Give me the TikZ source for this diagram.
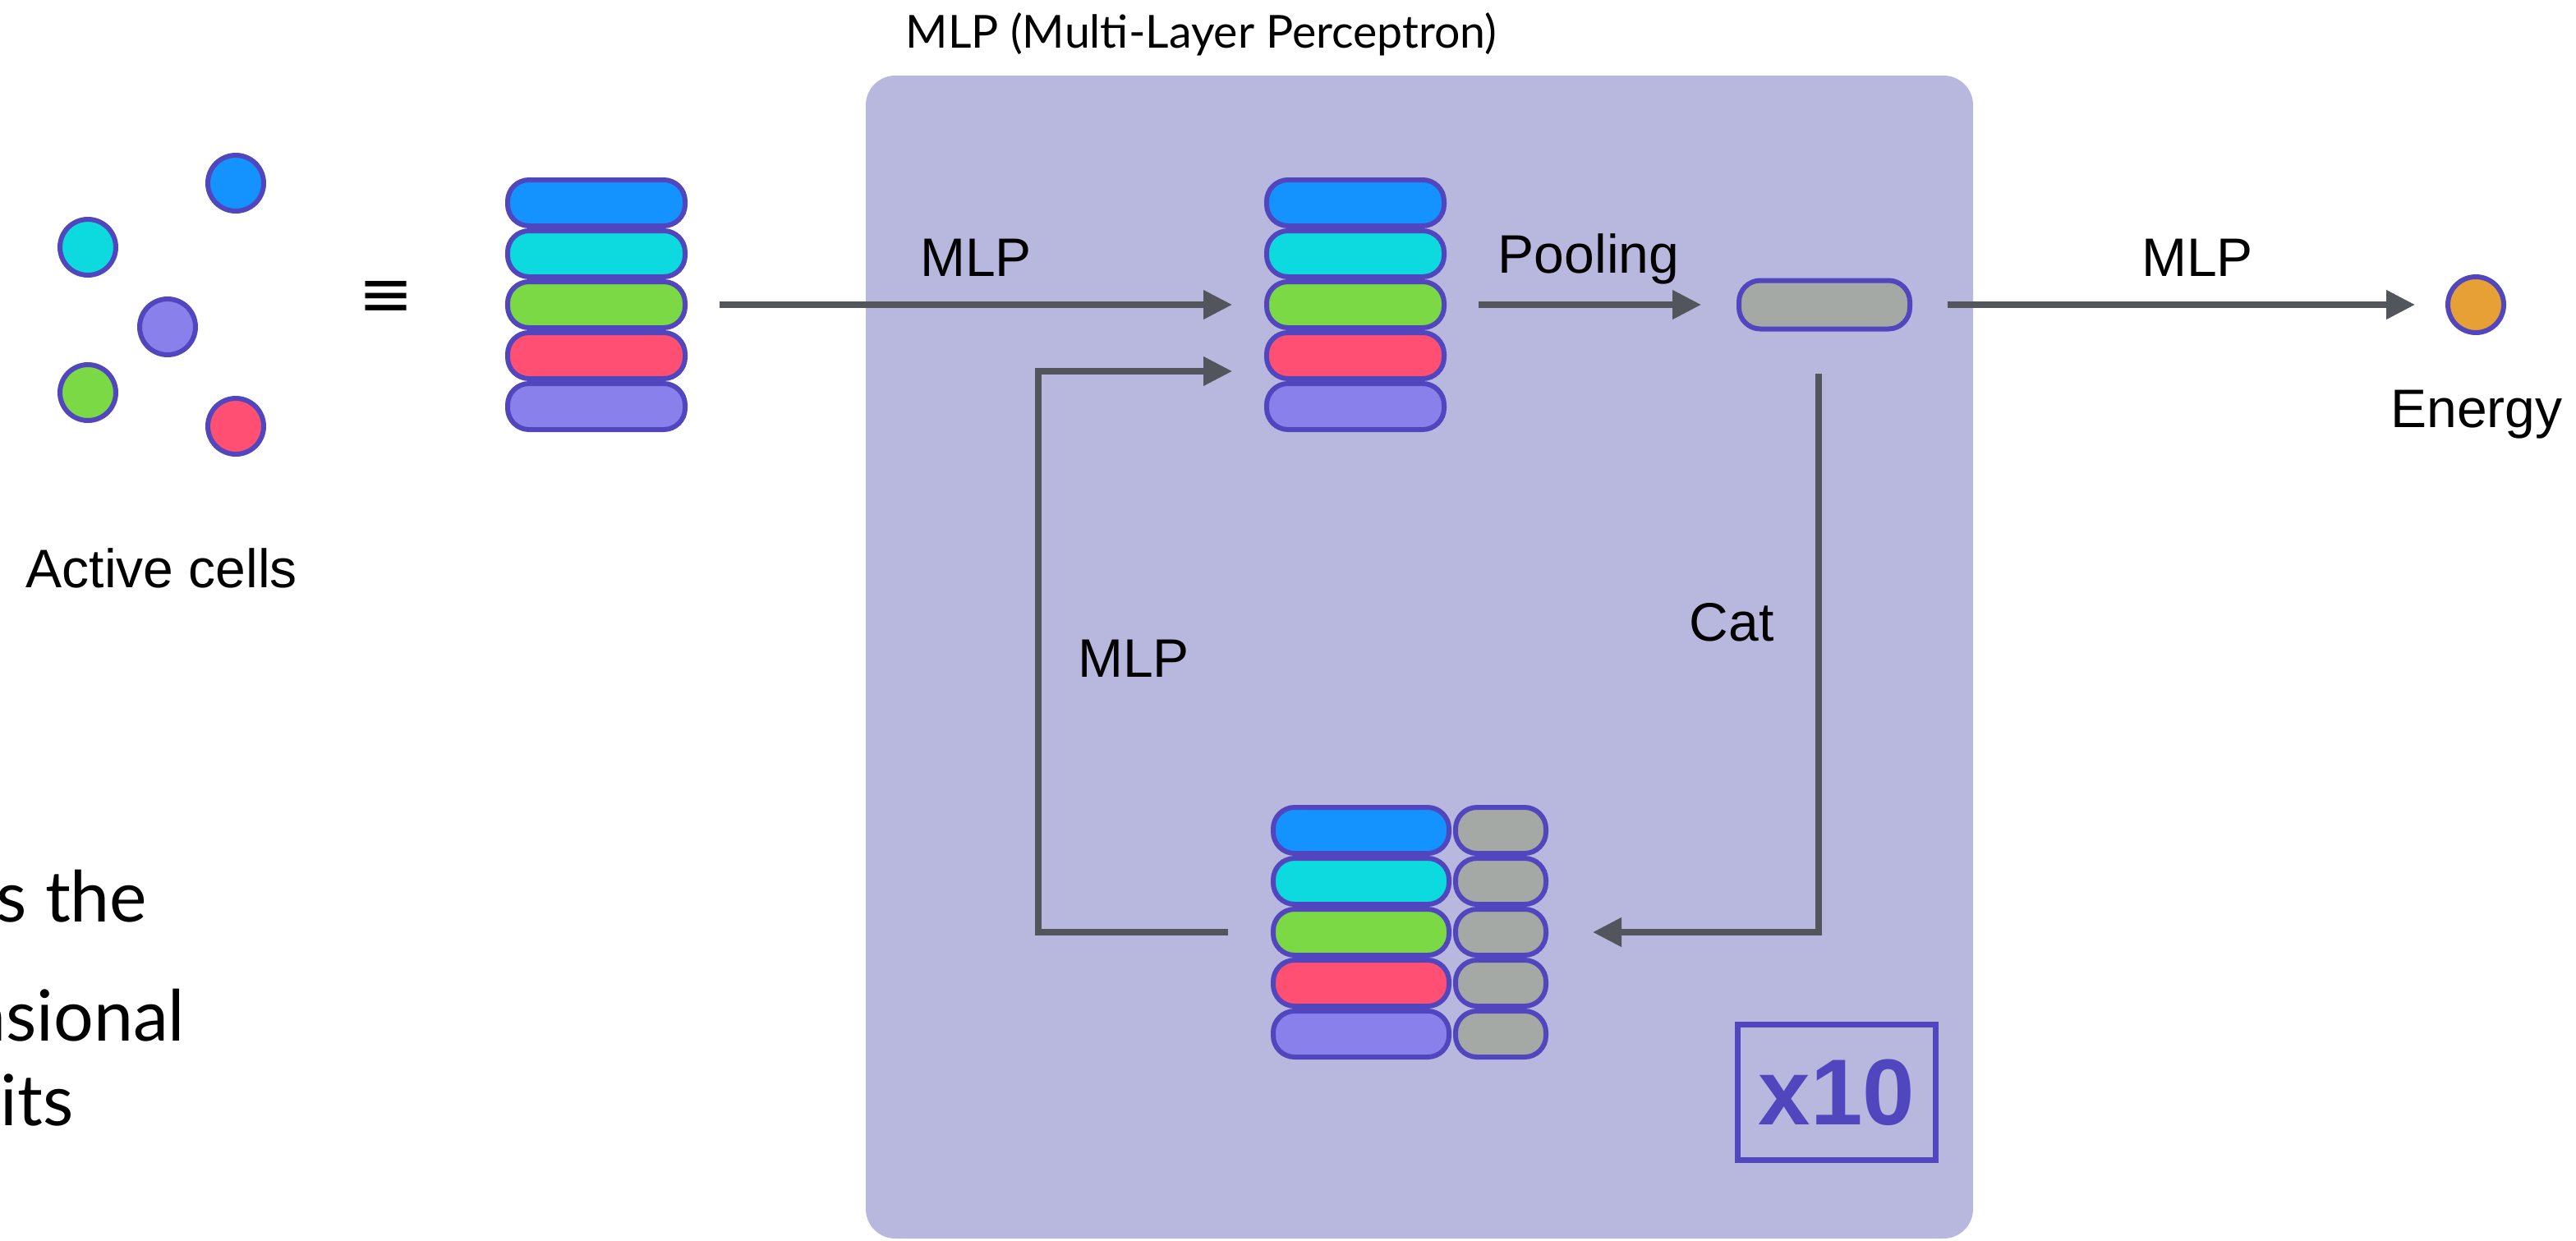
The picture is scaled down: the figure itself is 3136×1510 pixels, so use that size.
\documentclass[tikz,border=0pt]{standalone}
\usepackage{fontspec}
\setmainfont{Liberation Sans}
\newfontfamily\lightfont{Lato}
\newfontfamily\symfont{DejaVu Sans}
\usetikzlibrary{arrows.meta}

\definecolor{boxfill}{RGB}{184,184,222}
\definecolor{edgepurple}{RGB}{81,70,190}
\definecolor{cellblue}{RGB}{20,147,255}
\definecolor{cellcyan}{RGB}{13,218,223}
\definecolor{cellgreen}{RGB}{122,217,68}
\definecolor{cellred}{RGB}{255,80,115}
\definecolor{cellpurple}{RGB}{138,128,236}
\definecolor{cellgray}{RGB}{165,169,165}
\definecolor{energyorange}{RGB}{230,160,53}
\definecolor{arrowgray}{RGB}{82,86,92}

\tikzset{every picture/.style={line width=0.75pt}}
\tikzset{
  cellnode/.style={circle, draw=edgepurple, line width=3pt, minimum size=34pt, inner sep=0pt},
  featrow/.style={rectangle, rounded corners=13pt, draw=edgepurple, line width=3pt, minimum width=108pt, minimum height=28pt, inner sep=0pt},
  widerow/.style={featrow, minimum width=107pt},
  grayrow/.style={featrow, fill=cellgray, minimum width=55pt},
  pooledrow/.style={featrow, fill=cellgray, minimum width=104pt, minimum height=29.5pt},
  flowarrow/.style={draw=arrowgray, line width=3.7pt, -{Triangle[length=17.5pt,width=17pt]}},
  lbltext/.style={font=\fontsize{33}{40}\selectfont, anchor=base, inner sep=0pt},
  sidetext/.style={font=\lightfont\fontsize{43}{50}\selectfont, anchor=base east, inner sep=0pt},
}

\begin{document}
\begin{tikzpicture}[x=0.5pt,y=0.5pt,yscale=-1,xscale=1]
\useasboundingbox (0,0) rectangle (3136,1510);

%Shape: Rounded Rectangle
\fill [boxfill, rounded corners=18pt] (1054,92) rectangle (2402,1508);
% Text Node
\node [font=\lightfont\fontsize{27.7}{34}\selectfont, anchor=base west, inner sep=0pt] (title) at (1102,58) {MLP (Multi-Layer Perceptron)};

%Shape: Circle
\node [cellnode, fill=cellblue] (c1) at (287,223) {};
\node [cellnode, fill=cellcyan] (c2) at (107,301) {};
\node [cellnode, fill=cellpurple] (c3) at (204,398) {};
\node [cellnode, fill=cellgreen] (c4) at (107,478) {};
\node [cellnode, fill=cellred] (c5) at (287,519) {};
% Text Node
\node [lbltext] (active) at (197,715) {Active cells};
% Text Node
\node [font=\symfont\fontsize{40}{46}\selectfont, inner sep=0pt] (equiv) at (470,364) {≡};

%Shape: Rectangle
\node [featrow, fill=cellblue] (l1) at (726,247) {};
\node [featrow, fill=cellcyan] (l2) at (726,309) {};
\node [featrow, fill=cellgreen] (l3) at (726,371) {};
\node [featrow, fill=cellred] (l4) at (726,433) {};
\node [featrow, fill=cellpurple] (l5) at (726,495) {};

%Shape: Rectangle
\node [featrow, fill=cellblue] (m1) at (1650,247) {};
\node [featrow, fill=cellcyan] (m2) at (1650,309) {};
\node [featrow, fill=cellgreen] (m3) at (1650,371) {};
\node [featrow, fill=cellred] (m4) at (1650,433) {};
\node [featrow, fill=cellpurple] (m5) at (1650,495) {};

%Shape: Rectangle
\node [pooledrow] (pool) at (2221,371) {};

%Shape: Rectangle
\node [widerow, fill=cellblue] (b1) at (1657,1011) {};
\node [widerow, fill=cellcyan] (b2) at (1657,1073) {};
\node [widerow, fill=cellgreen] (b3) at (1657,1135) {};
\node [widerow, fill=cellred] (b4) at (1657,1197) {};
\node [widerow, fill=cellpurple] (b5) at (1657,1259) {};
\node [grayrow] (g1) at (1827,1011) {};
\node [grayrow] (g2) at (1827,1073) {};
\node [grayrow] (g3) at (1827,1135) {};
\node [grayrow] (g4) at (1827,1197) {};
\node [grayrow] (g5) at (1827,1259) {};

%Shape: Circle
\node [cellnode, fill=energyorange] (energy) at (3014,371) {};
% Text Node
\node [lbltext] (energylbl) at (3015,520) {Energy};

%Shape: Rectangle
\node [draw=edgepurple, line width=3.5pt, minimum width=120.5pt, minimum height=82.5pt, inner sep=0pt, text=edgepurple, font=\fontsize{57}{60}\selectfont\bfseries] (repeat) at (2236,1330) {x10};

%Straight Lines
\draw [flowarrow, shorten <=19.5pt, shorten >=19.5pt] (l3) -- (m3);
\draw [flowarrow, shorten <=19.5pt, shorten >=21.5pt] (m3) -- (pool);
\draw [flowarrow, shorten <=21.5pt, shorten >=18.5pt] (pool) -- (energy);
\coordinate (catstart) at (2214,455);
\draw [flowarrow, shorten >=27pt] (catstart) |- (g3);
\coordinate (loopcorner) at (1264,452);
\coordinate (loopend) at (1500,452);
\draw [flowarrow, shorten <=26pt] (b3.west) -| (loopcorner) -- (loopend);

% Text Node
\node [lbltext] (mlpin) at (1188,336) {MLP};
% Text Node
\node [lbltext] (poolinglbl) at (1934,332) {Pooling};
% Text Node
\node [lbltext] (mlpout) at (2675,336) {MLP};
% Text Node
\node [lbltext] (catlbl) at (2108,780) {Cat};
% Text Node
\node [lbltext] (mlploop) at (1380,824) {MLP};

\begin{scope}
\clip (0,0) rectangle (3136,1510);
% Text Node
\node [sidetext] (sidea) at (180,1122) {s the};
% Text Node
\node [sidetext] (sideb) at (226,1267) {nsional};
% Text Node
\node [sidetext, anchor=base west] (sidec) at (0,1370) {its};
\end{scope}

\end{tikzpicture}
\end{document}
